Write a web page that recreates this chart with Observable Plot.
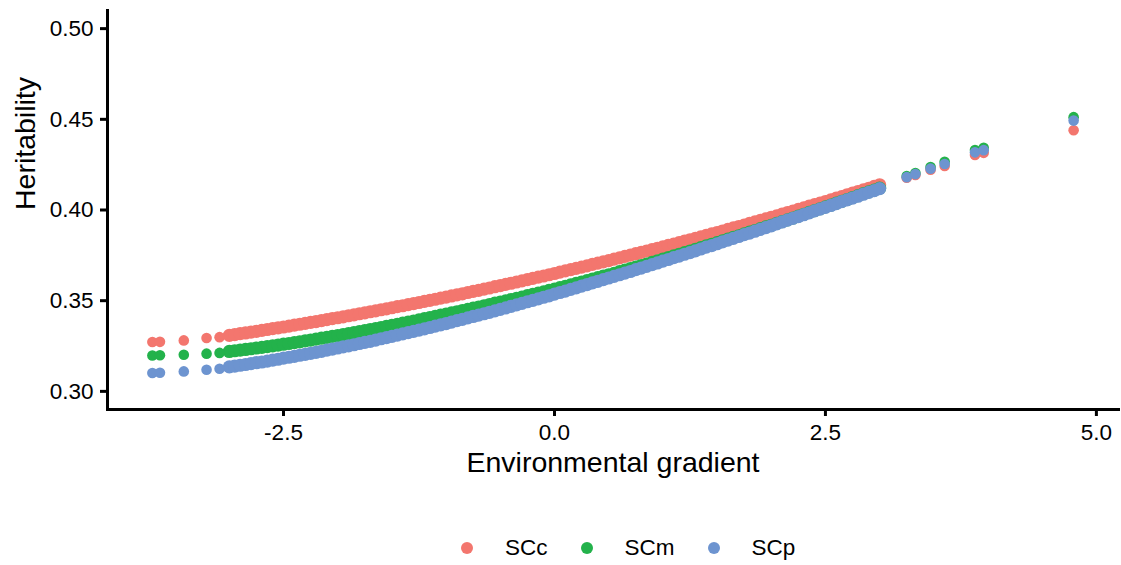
<!DOCTYPE html>
<html><head><meta charset="utf-8">
<script src="https://cdn.jsdelivr.net/npm/d3@7"></script>
<script src="https://cdn.jsdelivr.net/npm/@observablehq/plot@0.6"></script>
<style>
html,body{margin:0;padding:0;background:#fff;}
#chart{width:1121px;height:565px;font-family:"Liberation Sans",Arial,sans-serif;}
#legend{display:flex;align-items:center;height:24px;margin-top:46px;padding-left:461px;font-size:22.5px;color:#000;}
#legend .dot{width:12px;height:12px;border-radius:50%;margin-right:32px;}
#legend .lab{margin-right:33px;}
</style></head><body><div id="chart"></div>
<script>
const series = ["SCc", "SCm", "SCp"];
const colors = ["#F3766E", "#23B24B", "#6D94D0"];
const xTitle = "Environmental gradient";
const yTitle = "Heritability";
const xTicks = [-2.5, 0, 2.5, 5];
const yTicks = [0.30, 0.35, 0.40, 0.45, 0.50];

const xDense = [-3.00,-2.95,-2.90,-2.85,-2.80,-2.75,-2.70,-2.65,-2.60,-2.55,
-2.50,-2.45,-2.40,-2.35,-2.30,-2.25,-2.20,-2.15,-2.10,-2.05,
-2.00,-1.95,-1.90,-1.85,-1.80,-1.75,-1.70,-1.65,-1.60,-1.55,
-1.50,-1.45,-1.40,-1.35,-1.30,-1.25,-1.20,-1.15,-1.10,-1.05,
-1.00,-0.95,-0.90,-0.85,-0.80,-0.75,-0.70,-0.65,-0.60,-0.55,
-0.50,-0.45,-0.40,-0.35,-0.30,-0.25,-0.20,-0.15,-0.10,-0.05,
0.00,
0.05,0.10,0.15,0.20,0.25,0.30,0.35,0.40,0.45,0.50,
0.55,0.60,0.65,0.70,0.75,0.80,0.85,0.90,0.95,1.00,
1.05,1.10,1.15,1.20,1.25,1.30,1.35,1.40,1.45,1.50,
1.55,1.60,1.65,1.70,1.75,1.80,1.85,1.90,1.95,2.00,
2.05,2.10,2.15,2.20,2.25,2.30,2.35,2.40,2.45,2.50,
2.55,2.60,2.65,2.70,2.75,2.80,2.85,2.90,2.95,3.00];

const sccDense = [0.3309,0.3313,0.3318,0.3322,0.3327,0.3331,0.3336,0.3341,0.3346,0.3350,
0.3355,0.3360,0.3365,0.3370,0.3375,0.3380,0.3385,0.3390,0.3396,0.3401,
0.3406,0.3411,0.3417,0.3422,0.3428,0.3433,0.3439,0.3444,0.3450,0.3455,
0.3461,0.3467,0.3472,0.3478,0.3484,0.3490,0.3496,0.3502,0.3508,0.3514,
0.3520,0.3526,0.3532,0.3538,0.3545,0.3551,0.3557,0.3564,0.3570,0.3577,
0.3583,0.3590,0.3596,0.3603,0.3609,0.3616,0.3623,0.3630,0.3636,0.3643,
0.3650,
0.3657,0.3664,0.3671,0.3678,0.3685,0.3692,0.3700,0.3707,0.3714,0.3721,
0.3729,0.3736,0.3744,0.3751,0.3759,0.3766,0.3774,0.3781,0.3789,0.3797,
0.3805,0.3812,0.3820,0.3828,0.3836,0.3844,0.3852,0.3860,0.3868,0.3876,
0.3884,0.3893,0.3901,0.3909,0.3917,0.3926,0.3934,0.3943,0.3951,0.3960,
0.3968,0.3977,0.3986,0.3994,0.4003,0.4012,0.4021,0.4030,0.4038,0.4047,
0.4056,0.4065,0.4074,0.4084,0.4093,0.4102,0.4111,0.4120,0.4130,0.4139];

const scmDense = [0.3220,0.3224,0.3227,0.3231,0.3235,0.3239,0.3243,0.3247,0.3251,0.3255,
0.3260,0.3264,0.3269,0.3273,0.3278,0.3283,0.3288,0.3293,0.3298,0.3303,
0.3308,0.3313,0.3318,0.3324,0.3329,0.3335,0.3341,0.3346,0.3352,0.3358,
0.3364,0.3370,0.3376,0.3382,0.3388,0.3394,0.3401,0.3407,0.3413,0.3420,
0.3426,0.3433,0.3439,0.3446,0.3452,0.3459,0.3465,0.3472,0.3479,0.3486,
0.3492,0.3499,0.3506,0.3513,0.3520,0.3528,0.3535,0.3542,0.3549,0.3557,
0.3564,
0.3572,0.3579,0.3587,0.3595,0.3603,0.3611,0.3619,0.3627,0.3635,0.3643,
0.3651,0.3660,0.3668,0.3677,0.3685,0.3694,0.3702,0.3711,0.3720,0.3729,
0.3738,0.3747,0.3756,0.3765,0.3774,0.3783,0.3792,0.3802,0.3811,0.3820,
0.3830,0.3839,0.3849,0.3858,0.3868,0.3878,0.3887,0.3897,0.3907,0.3916,
0.3926,0.3936,0.3946,0.3956,0.3966,0.3976,0.3987,0.3997,0.4007,0.4017,
0.4027,0.4038,0.4048,0.4058,0.4069,0.4079,0.4090,0.4100,0.4110,0.4121];

const scpDense = [0.3135,0.3139,0.3144,0.3148,0.3153,0.3158,0.3162,0.3167,0.3172,0.3177,
0.3183,0.3188,0.3193,0.3199,0.3204,0.3210,0.3215,0.3221,0.3227,0.3233,
0.3239,0.3245,0.3251,0.3257,0.3264,0.3270,0.3276,0.3283,0.3290,0.3296,
0.3303,0.3310,0.3317,0.3324,0.3331,0.3338,0.3345,0.3352,0.3360,0.3367,
0.3374,0.3382,0.3390,0.3397,0.3405,0.3413,0.3420,0.3428,0.3436,0.3444,
0.3452,0.3460,0.3469,0.3477,0.3485,0.3494,0.3502,0.3510,0.3519,0.3527,
0.3536,
0.3545,0.3553,0.3562,0.3571,0.3580,0.3589,0.3598,0.3607,0.3616,0.3625,
0.3634,0.3643,0.3652,0.3661,0.3671,0.3680,0.3689,0.3699,0.3708,0.3718,
0.3727,0.3737,0.3746,0.3756,0.3765,0.3775,0.3785,0.3795,0.3804,0.3814,
0.3824,0.3834,0.3844,0.3854,0.3864,0.3873,0.3883,0.3893,0.3903,0.3913,
0.3924,0.3934,0.3944,0.3954,0.3964,0.3974,0.3984,0.3995,0.4005,0.4015,
0.4025,0.4035,0.4046,0.4056,0.4066,0.4076,0.4087,0.4097,0.4107,0.4118];

const xSparse   = [-3.71, -3.64, -3.42, -3.21, -3.09, 3.25, 3.33, 3.47, 3.60, 3.88, 3.96, 4.79];
const sccSparse = [0.3272, 0.3273, 0.3281, 0.3294, 0.3299, 0.4178, 0.4193, 0.4222, 0.4243, 0.4303, 0.4315, 0.4440];
const scmSparse = [0.3198, 0.3199, 0.3202, 0.3208, 0.3212, 0.4187, 0.4204, 0.4237, 0.4266, 0.4331, 0.4343, 0.4512];
const scpSparse = [0.3101, 0.3103, 0.3110, 0.3119, 0.3125, 0.4181, 0.4198, 0.4228, 0.4254, 0.4318, 0.4330, 0.4493];

const denseVals = [sccDense, scmDense, scpDense];
const sparseVals = [sccSparse, scmSparse, scpSparse];
const denseRows = [];
const sparseRows = [];
series.forEach((s, i) => {
  denseVals[i].forEach((v, j) => denseRows.push({x: xDense[j], y: v, s}));
  sparseVals[i].forEach((v, j) => sparseRows.push({x: xSparse[j], y: v, s}));
});

const font = "Liberation Sans, Arial, sans-serif";
const chart = Plot.plot({
  width: 1121, height: 490,
  marginLeft: 107, marginRight: 3, marginTop: 10, marginBottom: 81,
  style: {fontFamily: font, background: "white", color: "black"},
  x: {domain: [-4.124, 5.204]},
  y: {domain: [0.29, 0.51]},
  color: {domain: series, range: colors},
  marks: [
    Plot.dot(denseRows, {x: "x", y: "y", fill: "s", r: 6.6}),
    Plot.dot(sparseRows, {x: "x", y: "y", fill: "s", r: 5.3}),
    Plot.axisX({ticks: xTicks, tickFormat: d => d.toFixed(1), tickSize: 7, tickPadding: 8, strokeWidth: 3, fontSize: 22.5, label: null}),
    Plot.axisY({ticks: yTicks, tickFormat: d => d.toFixed(2), tickSize: 7, tickPadding: 7, strokeWidth: 3, fontSize: 22.5, label: null}),
    Plot.frame({anchor: "bottom", strokeWidth: 3}),
    Plot.frame({anchor: "left", strokeWidth: 3}),
    Plot.text([xTitle], {text: d => d, frameAnchor: "bottom", dy: 62, fontSize: 28.5}),
    Plot.text([yTitle], {text: d => d, frameAnchor: "left", dx: -82, rotate: -90, fontSize: 28.5})
  ]
});
const root = document.getElementById("chart");
root.appendChild(chart);

const legend = document.createElement("div");
legend.id = "legend";
series.forEach((s, i) => {
  const dot = document.createElement("span");
  dot.className = "dot";
  dot.style.background = colors[i];
  const lab = document.createElement("span");
  lab.className = "lab";
  lab.textContent = s;
  legend.appendChild(dot);
  legend.appendChild(lab);
});
root.appendChild(legend);
</script></body></html>
